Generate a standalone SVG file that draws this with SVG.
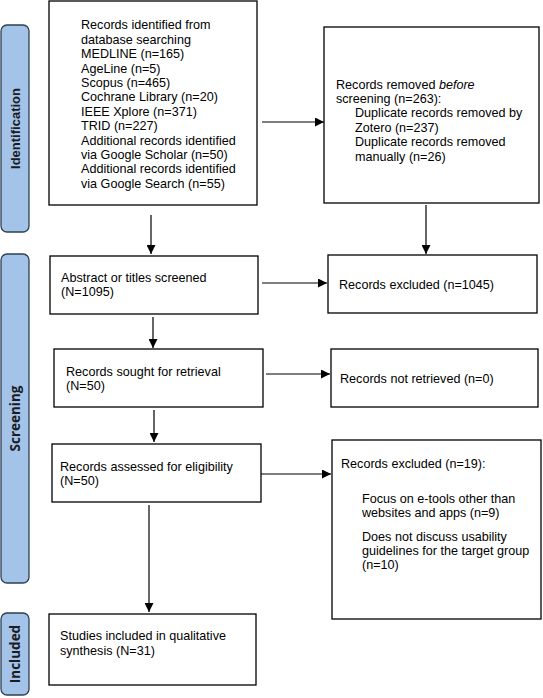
<svg xmlns="http://www.w3.org/2000/svg" width="543" height="698" viewBox="0 0 543 698">
<style>
  .box { fill: #ffffff; stroke: #000000; stroke-width: 1.3; }
  .tab { fill: #a3c4e8; stroke: #2e3f52; stroke-width: 1.3; }
  .t { font-family: "Liberation Sans", Arial, sans-serif; font-size: 12.6px; fill: #000000; }
  .tabt1 { font-family: "Liberation Sans", Arial, sans-serif; font-size: 13px; font-weight: bold; fill: #1b1b24; }
  .tabt2 { font-family: "Open Sans", "Noto Sans", sans-serif; font-size: 13.5px; font-weight: bold; fill: #1b1b24; }
  .conn { fill: none; stroke: #000000; stroke-width: 1.2; marker-end: url(#arr); }
</style>
<defs>
  <marker id="arr" markerUnits="userSpaceOnUse" markerWidth="9" markerHeight="9" refX="9" refY="4.5" orient="auto">
    <path d="M0,0 L9,4.5 L0,9 z" fill="#000000"/>
  </marker>
</defs>
<rect width="543" height="698" fill="#ffffff"/>

<g id="tab-identification">
  <rect class="tab" x="1" y="25" width="28" height="207" rx="6"/>
  <text class="tabt1" transform="translate(20,128.5) rotate(-90)" text-anchor="middle">Identification</text>
</g>
<g id="tab-screening">
  <rect class="tab" x="1" y="254" width="28" height="329" rx="6"/>
  <text class="tabt2" transform="translate(20,418.5) rotate(-90)" text-anchor="middle">Screening</text>
</g>
<g id="tab-included">
  <rect class="tab" x="1" y="613" width="28" height="82" rx="6"/>
  <text class="tabt2" transform="translate(20,654) rotate(-90)" text-anchor="middle">Included</text>
</g>

<g id="connectors">
  <path class="conn" d="M262,122 H324"/>
  <path class="conn" d="M151,215 V254"/>
  <path class="conn" d="M426,205 V254"/>
  <path class="conn" d="M262,283 H327"/>
  <path class="conn" d="M153,317 V348"/>
  <path class="conn" d="M266,374 H330"/>
  <path class="conn" d="M154,410 V442"/>
  <path class="conn" d="M261,474 H331"/>
  <path class="conn" d="M149,505 V612"/>
</g>

<g id="records-identified">
  <rect class="box" x="49" y="1" width="208" height="204"/>
  <text class="t">
    <tspan x="81" y="29.3">Records identified from</tspan>
    <tspan x="81" y="43.7">database searching</tspan>
    <tspan x="81" y="58.1">MEDLINE (n=165)</tspan>
    <tspan x="81" y="72.5">AgeLine (n=5)</tspan>
    <tspan x="81" y="86.9">Scopus (n=465)</tspan>
    <tspan x="81" y="101.3">Cochrane Library (n=20)</tspan>
    <tspan x="81" y="115.7">IEEE Xplore (n=371)</tspan>
    <tspan x="81" y="130.1">TRID (n=227)</tspan>
    <tspan x="81" y="144.5">Additional records identified</tspan>
    <tspan x="81" y="158.9">via Google Scholar (n=50)</tspan>
    <tspan x="81" y="173.3">Additional records identified</tspan>
    <tspan x="81" y="187.7">via Google Search (n=55)</tspan>
  </text>
</g>

<g id="records-removed">
  <rect class="box" x="324" y="27" width="215" height="176"/>
  <text class="t">
    <tspan x="336" y="88.5">Records removed <tspan font-style="italic">before</tspan></tspan>
    <tspan x="336" y="102.9">screening (n=263):</tspan>
    <tspan x="355" y="117.3">Duplicate records removed by</tspan>
    <tspan x="355" y="131.7">Zotero (n=237)</tspan>
    <tspan x="355" y="146.1">Duplicate records removed</tspan>
    <tspan x="355" y="160.5">manually (n=26)</tspan>
  </text>
</g>

<g id="abstract-screened">
  <rect class="box" x="50" y="256" width="208" height="58"/>
  <text class="t">
    <tspan x="61" y="281.5">Abstract or titles screened</tspan>
    <tspan x="61" y="295.5">(N=1095)</tspan>
  </text>
</g>

<g id="records-excluded-1045">
  <rect class="box" x="328" y="255" width="209" height="58"/>
  <text class="t" x="339" y="289">Records excluded (n=1045)</text>
</g>

<g id="records-sought">
  <rect class="box" x="54" y="349" width="209" height="58"/>
  <text class="t">
    <tspan x="66" y="376">Records sought for retrieval</tspan>
    <tspan x="66" y="390">(N=50)</tspan>
  </text>
</g>

<g id="records-not-retrieved">
  <rect class="box" x="331" y="349" width="207" height="58"/>
  <text class="t" x="340" y="382.5">Records not retrieved (n=0)</text>
</g>

<g id="records-assessed">
  <rect class="box" x="52" y="444" width="209" height="58"/>
  <text class="t">
    <tspan x="60" y="470.7">Records assessed for eligibility</tspan>
    <tspan x="60" y="485">(N=50)</tspan>
  </text>
</g>

<g id="records-excluded-19">
  <rect class="box" x="332" y="440" width="209" height="179"/>
  <text class="t">
    <tspan x="341" y="468.3">Records excluded (n=19):</tspan>
    <tspan x="362" y="502.7">Focus on e-tools other than</tspan>
    <tspan x="362" y="517">websites and apps (n=9)</tspan>
    <tspan x="362" y="540.7">Does not discuss usability</tspan>
    <tspan x="362" y="555">guidelines for the target group</tspan>
    <tspan x="362" y="569.4">(n=10)</tspan>
  </text>
</g>

<g id="studies-included">
  <rect class="box" x="49" y="614" width="207" height="71"/>
  <text class="t">
    <tspan x="60" y="640">Studies included in qualitative</tspan>
    <tspan x="60" y="654.5">synthesis (N=31)</tspan>
  </text>
</g>
</svg>
